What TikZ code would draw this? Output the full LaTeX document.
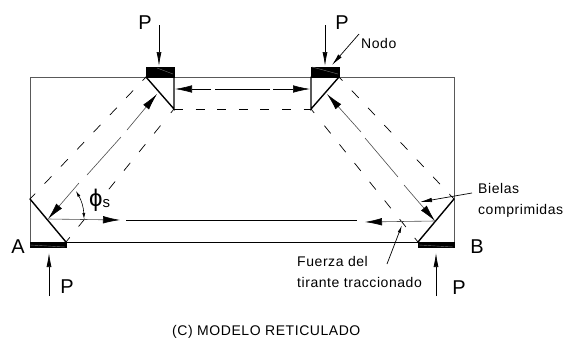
\documentclass[tikz,border=0pt]{standalone}
\usepackage{fontspec}
\setmainfont{Liberation Sans}
\newfontfamily\spacedfont[LetterSpace=4]{Liberation Sans}
\usetikzlibrary{arrows.meta}
\tikzset{
	beam/.style={draw=black!65, line width=0.9pt},
	plate/.style={draw=black, fill=black, line width=0.6pt},
	platemark/.style={draw=black!55, line width=0.4pt},
	nodeface/.style={line width=1.4pt, line cap=round},
	strut/.style={draw=black!70, line width=0.6pt},
	bigtip/.style={-{Latex[black, length=17pt, width=7.5pt]}},
	loadtip/.style={-{Latex[length=14pt, width=5pt]}},
	notetip/.style={-{Latex[black, length=12pt, width=4.5pt]}},
	edgeline/.style={line width=0.7pt},
	loadlabel/.style={font=\fontsize{20}{20}\selectfont, inner sep=0pt},
	notelabel/.style={font=\fontsize{14}{14}\spacedfont, anchor=base west, inner sep=0pt},
	dashupper/.style={edgeline, dash pattern=on 5pt off 13.7pt on 10pt off 13.7pt on 10pt off 13.7pt on 10pt off 13.7pt on 10pt off 13.7pt on 10pt off 13.7pt on 10pt off 13.7pt on 10pt off 60pt},
	dashlower/.style={edgeline, dash pattern=on 5pt off 16.4pt on 10pt off 14pt on 10pt off 14pt on 10pt off 14pt on 10pt off 14pt on 10pt off 14pt on 10pt off 14pt on 10pt off 60pt}
}
\begin{document}
\begin{tikzpicture}[x=1pt, y=-1pt]
	\useasboundingbox (0,0) rectangle (563,338);
	% beam
	\draw[beam] (66,242) -- (30,242) -- (30,77) -- (454,77) -- (454,242);
	\draw[line width=0.9pt] (66,242) -- (418,242);
	% plates
	\draw[plate] (146,67) rectangle (174,77);
	\draw[plate] (311,67) rectangle (339,77);
	\draw[plate] (30,242) rectangle (66,247);
	\draw[plate] (418,242) rectangle (454,247);
	\draw[platemark] (157,68) -- (173,74);
	\draw[platemark] (312,67) -- (338,74);
	\draw[platemark] (30,245) -- (65,247);
	\draw[platemark] (419,245) -- (453,247);
	% nodes
	\coordinate (topleft) at (146,77);
	\coordinate (topleftb) at (174,109);
	\coordinate (topright) at (339,77);
	\coordinate (toprightb) at (311,109);
	\coordinate (nodeA) at (30,199);
	\coordinate (nodeAb) at (66,242);
	\coordinate (nodeB) at (454,199);
	\coordinate (nodeBb) at (418,242);
	\draw[nodeface] (topleft) -- (topleftb) -- (174,77);
	\draw[nodeface] (topright) -- (toprightb) -- (311,77);
	\draw[nodeface] (nodeA) -- (nodeAb);
	\draw[nodeface] (nodeB) -- (nodeBb);
	% dashed limits
	\draw[dashupper] (topleft) -- (nodeA);
	\draw[edgeline, dash pattern=on 5pt off 16.4pt on 10pt off 14pt on 10pt off 14pt on 10pt off 14pt on 10pt off 38pt on 10pt off 14pt on 10pt off 60pt] (topleftb) -- (nodeAb);
	\draw[dashupper] (topright) -- (nodeB);
	\draw[dashlower] (toprightb) -- (nodeBb);
	\draw[edgeline, dash pattern=on 9pt off 12.6pt] (topleftb) -- (toprightb);
	% struts
	\coordinate (forceA) at (48,219);
	\coordinate (forceB) at (435,221);
	\draw[strut, bigtip] (79,183) -- (forceA);
	\draw[strut] (87,175) -- (121,137);
	\draw[strut, bigtip] (127,130) -- (157,94);
	\draw[strut, bigtip] (361,132) -- (327,94);
	\draw[strut] (365,138) -- (398,177);
	\draw[strut, bigtip] (404,185) -- (forceB);
	% compression top
	\draw[bigtip, line width=0.6pt] (211,89) -- (175,89);
	\draw[line width=0.6pt] (215,89) -- (270,89);
	\draw[bigtip, line width=0.6pt] (273,89) -- (310,89);
	% tie
	\draw[strut, bigtip] (forceA) -- (120,220);
	\draw[line width=0.9pt] (126,220.5) -- (357,220.5);
	\draw[strut, bigtip] (forceB) -- (365,222);
	% angle
	\draw[{Latex[length=6pt, width=3pt]}-{Latex[length=6pt, width=3pt]}, line width=0.6pt] (76,191) to[bend left=14] (84,219);
	\node[inner sep=0pt, anchor=west] (angle) at (89,200) {\fontsize{24}{24}\selectfont ϕ\fontsize{15}{15}\selectfont\raisebox{-1pt}{s}};
	% loads
	\draw[loadtip, line width=0.7pt] (159,25) -- (159,66);
	\draw[loadtip, line width=0.7pt] (325,25) -- (325,66);
	\draw[loadtip, line width=0.7pt] (49,296) -- (49,253);
	\draw[loadtip, line width=0.7pt] (436,296) -- (436,253);
	\node[loadlabel] (loadtl) at (145,23) {P};
	\node[loadlabel] (loadtr) at (342,23) {P};
	\node[loadlabel] (loadbl) at (67,287) {P};
	\node[loadlabel] (loadbr) at (459,288) {P};
	\node[loadlabel] (labelA) at (18,247) {A};
	\node[loadlabel] (labelB) at (477,247) {B};
	% notes
	\node[notelabel] (nodo) at (361,48) {Nodo};
	\node[notelabel] (bielas) at (478,193) {Bielas};
	\node[notelabel] (comprimidas) at (478,214) {comprimidas};
	\node[notelabel] (fuerza) at (297,266) {Fuerza del};
	\node[notelabel] (tirante) at (297,287) {tirante traccionado};
	\node[notelabel] (caption) at (172,335) {(C) MODELO RETICULADO};
	\coordinate (nodotail) at (359,34);
	\coordinate (bielastail) at (472,193);
	\coordinate (fuerzatail) at (387,264);
	\draw[notetip, line width=0.7pt] (nodotail) -- (332,65);
	\draw[notetip, line width=0.7pt] (bielastail) -- (420,202);
	\draw[{Latex[length=8pt, width=3pt]}-, line width=0.7pt] (402,225) -- (fuerzatail);
\end{tikzpicture}
\end{document}
